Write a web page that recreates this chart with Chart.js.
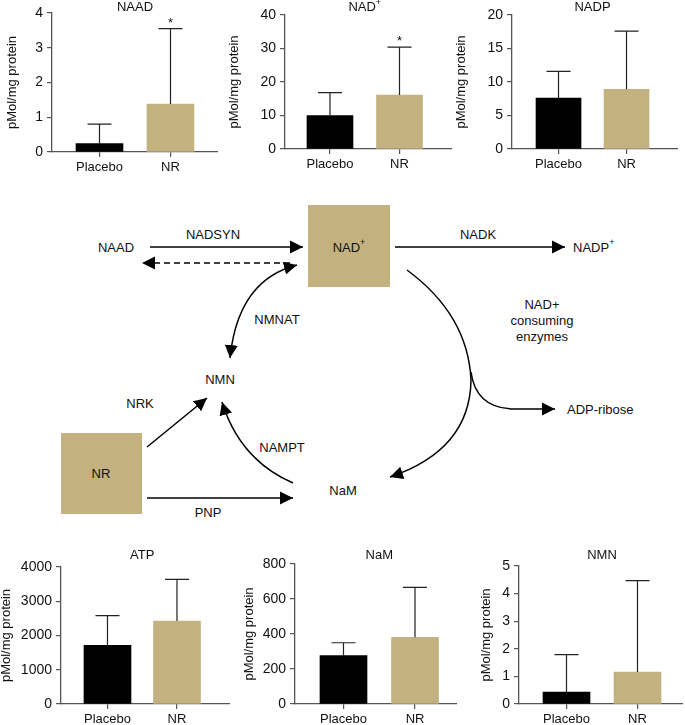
<!DOCTYPE html>
<html lang="en">
<head>
<meta charset="utf-8" />
<title>NAD metabolome after NR supplementation</title>
<script src="https://cdn.jsdelivr.net/npm/chart.js@4.4.0/dist/chart.umd.min.js"></script>
<style>
  body {
    margin: 0;
    width: 685px;
    height: 725px;
    overflow: hidden;
    position: relative;
    background: #fff;
    font-family: "Liberation Sans", Arial, sans-serif;
  }
  canvas { position: absolute; }
  svg { position: absolute; left: 0; top: 0; }
  svg text { font-family: "Liberation Sans", Arial, sans-serif; font-size: 13px; fill: #111; }
</style>
</head>
<body>

<!-- pathway diagram -->
<svg width="685" height="725" viewBox="0 0 685 725">
  <defs>
    <marker id="head" markerUnits="userSpaceOnUse" markerWidth="14" markerHeight="14"
            refX="13" refY="7" orient="auto-start-reverse">
      <path d="M0,0.5 L13,7 L0,13.5 Z" fill="#000" />
    </marker>
  </defs>
  <g stroke="#000" stroke-width="1.5" fill="none">
    <!-- NAAD -> NAD+ -->
    <line x1="150" y1="247" x2="303" y2="247" marker-end="url(#head)" />
    <!-- NAD+ -> NAAD (dashed) -->
    <line x1="290" y1="263" x2="142" y2="263" stroke-dasharray="6,4" marker-end="url(#head)" />
    <!-- NAD+ -> NADP+ -->
    <line x1="395" y1="247" x2="565" y2="247" marker-end="url(#head)" />
    <!-- NMNAT, both ways -->
    <path d="M230,358 Q238,280 297,265" marker-start="url(#head)" marker-end="url(#head)" />
    <!-- NAD+ consuming enzymes -> NaM -->
    <path d="M407,270 Q468,315 471,380 Q470,450 390,477" marker-end="url(#head)" />
    <!-- branch to ADP-ribose -->
    <path d="M471,372 Q476,409 515,409 L555,409" marker-end="url(#head)" />
    <!-- NR -> NMN -->
    <line x1="147" y1="447" x2="207" y2="398" marker-end="url(#head)" />
    <!-- NR -> NaM -->
    <line x1="147" y1="498" x2="293" y2="498" marker-end="url(#head)" />
    <!-- NaM -> NMN -->
    <path d="M293,483 Q240,460 222,402" marker-end="url(#head)" />
  </g>

  <rect x="308" y="205" width="82" height="82" fill="#c3b27f" />
  <rect x="61" y="433" width="81" height="81" fill="#c3b27f" />

  <g dominant-baseline="central">
    <text x="116" y="247" text-anchor="middle">NAAD</text>
    <text x="213" y="234" text-anchor="middle">NADSYN</text>
    <text x="349" y="247" text-anchor="middle">NAD<tspan font-size="9" dy="-5">+</tspan></text>
    <text x="478" y="234" text-anchor="middle">NADK</text>
    <text x="573" y="247">NADP<tspan font-size="9" dy="-5">+</tspan></text>
    <text x="542" y="304" text-anchor="middle">NAD+</text>
    <text x="542" y="320" text-anchor="middle">consuming</text>
    <text x="542" y="336" text-anchor="middle">enzymes</text>
    <text x="277" y="319" text-anchor="middle">NMNAT</text>
    <text x="220" y="379" text-anchor="middle">NMN</text>
    <text x="567" y="409">ADP-ribose</text>
    <text x="140" y="403" text-anchor="middle">NRK</text>
    <text x="101" y="473" text-anchor="middle">NR</text>
    <text x="282" y="447" text-anchor="middle">NAMPT</text>
    <text x="343" y="490" text-anchor="middle">NaM</text>
    <text x="208" y="512" text-anchor="middle">PNP</text>
  </g>
</svg>

<canvas id="c-naad"></canvas>
<canvas id="c-nad"></canvas>
<canvas id="c-nadp"></canvas>
<canvas id="c-atp"></canvas>
<canvas id="c-nam"></canvas>
<canvas id="c-nmn"></canvas>

<script>
  // ---- data (pMol/mg protein, mean and upper SD) ----
  const groups = ['Placebo', 'NR'];

  const naadMean = [0.24, 1.38];
  const naadSD = [0.56, 2.17];
  const naadSig = ['', '*'];
  const naadTicks = [0, 1, 2, 3, 4];

  const nadMean = [10.0, 16.1];
  const nadSD = [6.8, 14.3];
  const nadSig = ['', '*'];
  const nadTicks = [0, 10, 20, 30, 40];

  const nadpMean = [7.6, 8.9];
  const nadpSD = [4.0, 8.7];
  const nadpSig = ['', ''];
  const nadpTicks = [0, 5, 10, 15, 20];

  const atpMean = [1715, 2420];
  const atpSD = [865, 1220];
  const atpSig = ['', ''];
  const atpTicks = [0, 1000, 2000, 3000, 4000];

  const namMean = [276, 381];
  const namSD = [74, 286];
  const namSig = ['', ''];
  const namTicks = [0, 200, 400, 600, 800];

  const nmnMean = [0.43, 1.16];
  const nmnSD = [1.36, 3.31];
  const nmnSig = ['', ''];
  const nmnTicks = [0, 1, 2, 3, 4, 5];

  const BLACK = '#000000';
  const TAN = '#c3b27f';
  const AXIS = '#555555';
  const FONT = "'Liberation Sans', Arial, sans-serif";

  // where each panel sits on the page
  const panels = [
    { id: 'c-naad', name: 'NAAD', sup: '', mean: naadMean, sd: naadSD, sig: naadSig, ticks: naadTicks,
      titleX: 13, axisX: 52, right: 218, top: 13, bottom: 152, xMin: -0.669, xMax: 1.669, headY: 7, bar: 47, canvasTop: 0 },
    { id: 'c-nad', name: 'NAD', sup: '+', mean: nadMean, sd: nadSD, sig: nadSig, ticks: nadTicks,
      titleX: 235, axisX: 285, right: 452, top: 15, bottom: 149, xMin: -0.647, xMax: 1.755, headY: 7, bar: 46, canvasTop: 0 },
    { id: 'c-nadp', name: 'NADP', sup: '', mean: nadpMean, sd: nadpSD, sig: nadpSig, ticks: nadpTicks,
      titleX: 462, axisX: 512, right: 678, top: 15, bottom: 149, xMin: -0.684, xMax: 1.757, headY: 7, bar: 45, canvasTop: 0 },
    { id: 'c-atp', name: 'ATP', sup: '', mean: atpMean, sd: atpSD, sig: atpSig, ticks: atpTicks,
      titleX: 7, axisX: 61, right: 230, top: 567, bottom: 704, xMin: -0.669, xMax: 1.763, headY: 555, bar: 47, canvasTop: 540 },
    { id: 'c-nam', name: 'NaM', sup: '', mean: namMean, sd: namSD, sig: namSig, ticks: namTicks,
      titleX: 250, axisX: 295, right: 457, top: 564, bottom: 704, xMin: -0.678, xMax: 1.587, headY: 555, bar: 47, canvasTop: 540 },
    { id: 'c-nmn', name: 'NMN', sup: '', mean: nmnMean, sd: nmnSD, sig: nmnSig, ticks: nmnTicks,
      titleX: 487, axisX: 519, right: 683, top: 566, bottom: 704, xMin: -0.669, xMax: 1.641, headY: 555, bar: 47, canvasTop: 540 }
  ];

  // upper error bars, significance stars and the panel heading
  const extras = {
    id: 'extras',
    afterDatasetsDraw(chart, args, opts) {
      const { ctx, scales: { x, y } } = chart;
      ctx.save();
      ctx.strokeStyle = '#222';
      ctx.lineWidth = 1.2;
      opts.mean.forEach((m, i) => {
        const px = x.getPixelForValue(i);
        const yTop = y.getPixelForValue(m + opts.sd[i]);
        ctx.beginPath();
        ctx.moveTo(px, y.getPixelForValue(m));
        ctx.lineTo(px, yTop);
        ctx.moveTo(px - 12, yTop);
        ctx.lineTo(px + 12, yTop);
        ctx.stroke();
        if (opts.sig[i]) {
          ctx.fillStyle = '#111';
          ctx.font = '13px ' + FONT;
          ctx.textAlign = 'center';
          ctx.textBaseline = 'alphabetic';
          ctx.fillText(opts.sig[i], px, yTop - 2);
        }
      });

      // heading
      ctx.fillStyle = '#111';
      ctx.font = '13px ' + FONT;
      ctx.textBaseline = 'middle';
      const cx = x.getPixelForValue(0.5);
      const w = ctx.measureText(opts.name).width;
      ctx.font = '9px ' + FONT;
      const ws = opts.sup ? ctx.measureText(opts.sup).width : 0;
      ctx.font = '13px ' + FONT;
      ctx.textAlign = 'left';
      const x0 = cx - (w + ws) / 2;
      ctx.fillText(opts.name, x0, opts.headY);
      if (opts.sup) {
        ctx.font = '9px ' + FONT;
        ctx.fillText(opts.sup, x0 + w, opts.headY - 4);
      }
      ctx.restore();
    }
  };

  panels.forEach(p => {
    const canvas = document.getElementById(p.id);
    const left = p.titleX - 8;
    const xAxisH = 30;
    canvas.width = p.right - left;
    canvas.height = p.bottom - p.canvasTop + xAxisH;
    canvas.style.left = left + 'px';
    canvas.style.top = p.canvasTop + 'px';

    new Chart(canvas, {
      type: 'bar',
      data: {
        datasets: [{
          data: p.mean.map((m, i) => ({ x: i, y: m })),
          backgroundColor: [BLACK, TAN],
          borderWidth: 0,
          barThickness: p.bar
        }]
      },
      options: {
        responsive: false,
        animation: false,
        events: [],
        layout: { padding: { left: 0, right: 0, top: p.top - p.canvasTop, bottom: 0 } },
        plugins: {
          legend: { display: false },
          tooltip: { enabled: false },
          extras: {
            mean: p.mean, sd: p.sd, sig: p.sig,
            name: p.name, sup: p.sup, headY: p.headY - p.canvasTop
          }
        },
        scales: {
          x: {
            type: 'linear',
            offset: false,
            min: p.xMin,
            max: p.xMax,
            afterBuildTicks: s => { s.ticks = groups.map((g, i) => ({ value: i })); },
            afterFit: s => { s.height = xAxisH; },
            ticks: {
              callback: v => groups[v],
              color: '#111',
              font: { family: FONT, size: 13 },
              padding: 3,
              maxRotation: 0
            },
            grid: { offset: false, drawOnChartArea: false, drawTicks: true, tickLength: 5, color: AXIS, lineWidth: 1.2 },
            border: { display: true, color: AXIS, width: 1.3 }
          },
          y: {
            min: p.ticks[0],
            max: p.ticks[p.ticks.length - 1],
            afterBuildTicks: s => { s.ticks = p.ticks.map(v => ({ value: v })); },
            afterFit: s => { s.width = p.axisX - left; },
            ticks: {
              callback: v => String(v),
              color: '#111',
              font: { family: FONT, size: 14 },
              padding: 4
            },
            title: {
              display: true,
              text: 'pMol/mg protein',
              color: '#111',
              font: { family: FONT, size: 13 },
              padding: 0
            },
            grid: { drawOnChartArea: false, drawTicks: true, tickLength: 5, color: AXIS, lineWidth: 1.2 },
            border: { display: true, color: AXIS, width: 1.3 }
          }
        }
      },
      plugins: [extras]
    });
  });
</script>
</body>
</html>
